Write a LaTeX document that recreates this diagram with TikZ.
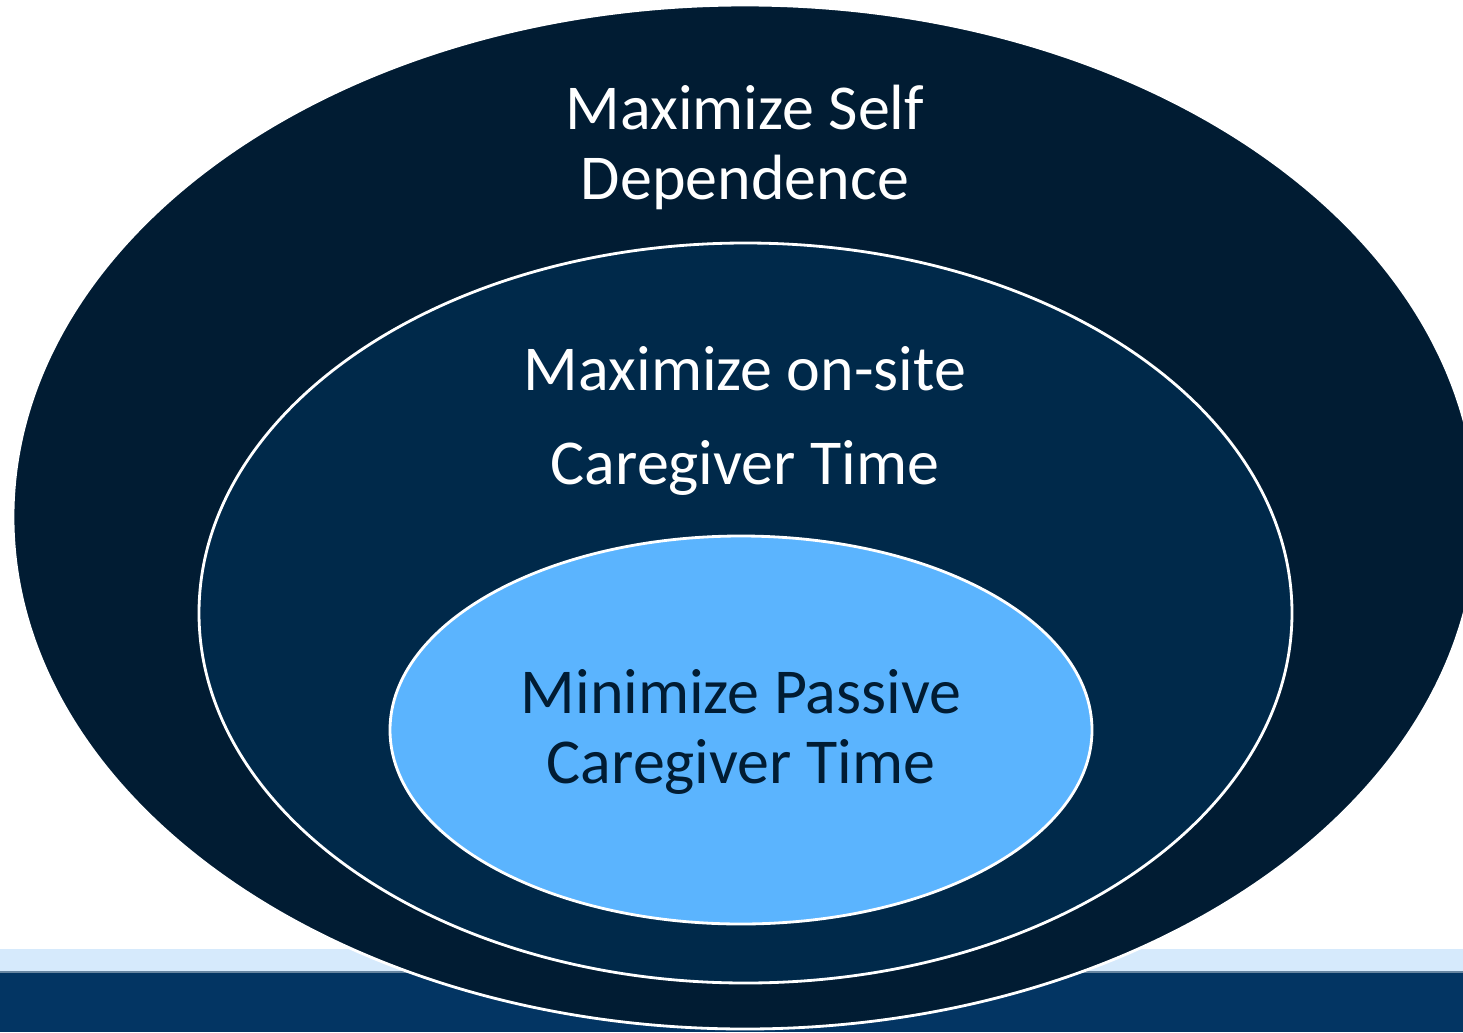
\documentclass[tikz,border=0pt]{standalone}
\usepackage{fontspec}
\setmainfont{Carlito}
\definecolor{ringdark}{RGB}{1,28,51}
\definecolor{ringmid}{RGB}{0,41,74}
\definecolor{ringlight}{RGB}{91,180,254}
\definecolor{bandlight}{RGB}{214,234,252}
\definecolor{banddark}{RGB}{3,53,99}
\usetikzlibrary{shapes.geometric}
\tikzset{
  ring/.style={ellipse, draw=white, line width=0.8pt, inner sep=0pt},
  goal/.style={align=center, font=\fontsize{18.2}{19.9}\selectfont}
}

\begin{document}
\begin{tikzpicture}
  \useasboundingbox (0,0) rectangle (14.63,10.32);
  \clip (0,0) rectangle (14.63,10.32);

  % footer bands
  \fill [banddark] (0,0) rectangle (14.63,0.60);
  \fill [bandlight] (0,0.60) rectangle (14.63,0.83);
  \draw [banddark!60!white, line width=0.4pt] (0,0.60) -- (14.63,0.60);

  \node [ring, fill=ringdark, minimum width=14.64cm, minimum height=10.24cm] (outer) at (7.45,5.15) {};
  \node [ring, fill=ringmid, minimum width=10.93cm, minimum height=7.40cm] (middle) at (7.455,4.19) {};
  \node [ring, fill=ringlight, minimum width=7.02cm, minimum height=3.88cm] (inner) at (7.41,3.02) {};

  \node [goal, text=white] (self) at (7.45,8.85) {Maximize Self\\Dependence};
  \node [goal, text=white, font=\fontsize{18.2}{27}\selectfont] (onsite) at (7.45,6.11) {Maximize on-site\\Caregiver Time};
  \node [goal, text=ringdark] (passive) at (7.41,3.00) {Minimize Passive\\Caregiver Time};

\end{tikzpicture}
\end{document}
